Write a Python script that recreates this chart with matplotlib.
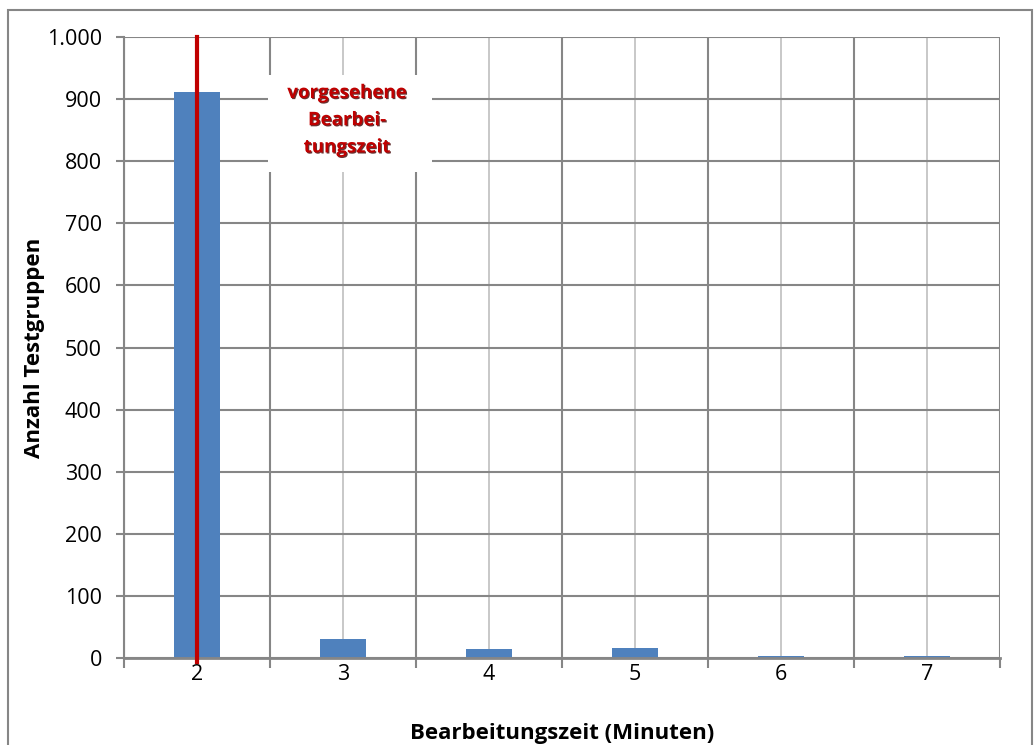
import numpy as np
import matplotlib.pyplot as plt
from matplotlib.patches import Rectangle
import matplotlib.patheffects as pe

# Bearbeitungszeit in Minuten und Anzahl der Testgruppen
minuten = ['2', '3', '4', '5', '6', '7']
anzahl = [911, 30, 14, 16, 3, 3]
vorgesehen = '2'
yticks = [0, 100, 200, 300, 400, 500, 600, 700, 800, 900, 1000]
ylabels = ['0', '100', '200', '300', '400', '500', '600', '700', '800', '900', '1.000']

plt.rcParams['font.family'] = ['Open Sans', 'DejaVu Sans']

fig = plt.figure(figsize=(10.34, 7.45), dpi=100)
ax = fig.add_axes([124/1034, 1 - 658/745, 876/1034, 621/745])

x = np.arange(len(minuten))
ax.bar(x, anzahl, width=0.315, color='#4f81bd', zorder=3)

ax.set_xlim(-0.5, len(minuten) - 0.5)
ax.set_ylim(0, 1000)

# Gitter: dunkle Linien an den Kategoriegrenzen, helle in der Mitte
ax.set_xticks(np.arange(-0.5, len(minuten)), minor=False)
ax.set_xticklabels([])
ax.set_xticks(x, minor=True)
ax.set_xticklabels(minuten, minor=True)
ax.tick_params(axis='x', which='major', length=7, width=1.5, color='#868686')
ax.tick_params(axis='x', which='minor', length=0, pad=4.5, labelsize=15.5)
ax.grid(axis='x', which='major', color='#868686', linewidth=1.5, zorder=1)
ax.grid(axis='x', which='minor', color='#bfbfbf', linewidth=1.2, zorder=1)

ax.set_yticks(yticks)
ax.set_yticklabels(ylabels)
ax.tick_params(axis='y', length=6, width=1.5, color='#868686', labelsize=15.5, pad=10)
ax.grid(axis='y', color='#868686', linewidth=1.5, zorder=1)
ax.set_axisbelow(True)

for side in ['top', 'right']:
    ax.spines[side].set_visible(False)
ax.spines['left'].set_color('#868686')
ax.spines['left'].set_linewidth(1.5)
ax.spines['bottom'].set_color('#868686')
ax.spines['bottom'].set_linewidth(2)
ax.spines['bottom'].set_zorder(4)

ax.set_xlabel('Bearbeitungszeit (Minuten)', fontsize=16, fontweight='bold', labelpad=27)
ax.set_ylabel('Anzahl Testgruppen', fontsize=16, fontweight='bold', labelpad=1)

# Markierung der vorgesehenen Bearbeitungszeit
xv = minuten.index(vorgesehen)
ax.plot([xv, xv], [-7, 1000], color='#c00000', linewidth=3, zorder=5, clip_on=False)

ax.add_patch(Rectangle((0.1645, 0.7826), 0.1872, 0.1562, transform=ax.transAxes,
                       facecolor='white', edgecolor='none', zorder=2))
ax.text(0.2546, 0.866, 'vorgesehene\nBearbei-\ntungszeit', transform=ax.transAxes,
        ha='center', va='center', fontsize=13.5, fontweight='bold', color='#c00000',
        linespacing=1.48, zorder=6,
        path_effects=[pe.withSimplePatchShadow(offset=(0.8, -0.8), shadow_rgbFace='#400000', alpha=0.8)])

# Rahmen um das Diagramm
fig.patches.append(Rectangle((8/1034, -0.01), 1024/1034, 1 - 10/745 + 0.01,
                             transform=fig.transFigure, fill=False,
                             edgecolor='#868686', linewidth=1.5))

fig.savefig('out.png', dpi=100)
